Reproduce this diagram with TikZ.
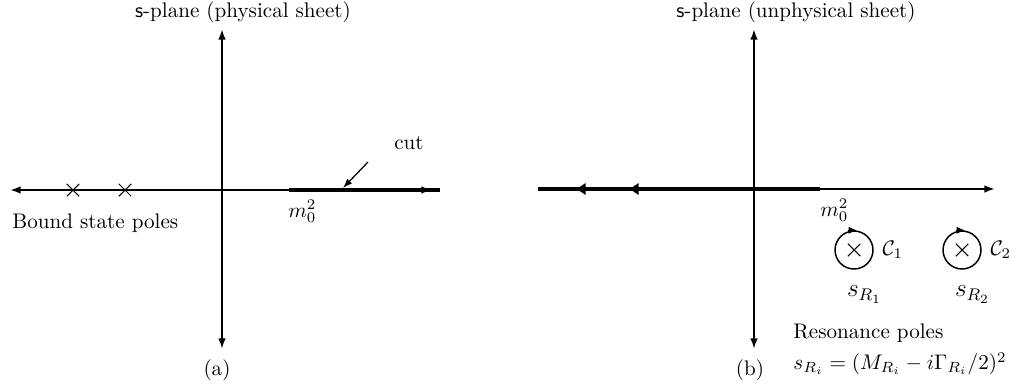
\documentclass[tikz,border=0pt]{standalone}
\usepackage{amsmath}
\usepackage{amssymb}
\usetikzlibrary{shapes.misc, positioning, arrows.meta, decorations.markings}

\begin{document}
\begin{tikzpicture}[x=0.474pt, y=-0.474pt, >={Latex[length=5pt, width=3.6pt]},
    axis/.style = {line width=1.1pt},
    cutline/.style = {line width=2.2pt},
    pole/.style = {draw, cross out, minimum size=5.4pt, inner sep=0pt, line width=0.5pt},
    loop/.style = {draw, circle, minimum size=18pt, inner sep=0pt, line width=0.7pt},
    txt/.style = {inner sep=0pt}]
    \useasboundingbox (0,0) rectangle (1025,390);

    % (a) physical sheet
    \coordinate (oa) at (222,190);
    \coordinate (wa) at (10,190);
    \coordinate (ea) at (432,190);
    \coordinate (na) at (222,29);
    \coordinate (sa) at (222,349);
    \coordinate (ma) at (289,190);
    \coordinate (ka) at (440,190);
    \coordinate (cutpt) at (343,188);
    \coordinate (cuttail) at (368,162);

    \draw[cutline] (ma) -- (ka);
    \draw[axis, <->] (wa) -- (ea);
    \draw[axis, <->] (sa) -- (na);
    \node[pole] (b1) at (73,190) {};
    \node[pole] (b2) at (125,190) {};
    \draw[->, line width=0.6pt, >={Latex[length=4.5pt, width=3.2pt]}] (cuttail) -- (cutpt);

    \node[txt] (cutlbl) at (409,143) {cut};
    \node[txt, below right=4.7pt and -0.5pt of ma] (m0a) {$m_0^2$};
    \node[txt, anchor=west] (bound) at (12,223) {Bound state poles};
    \node[txt] (titlea) at (243,12) {\textsf{s}-plane (physical sheet)};
    \node[txt] (capa) at (217,370) {(a)};

    % (b) unphysical sheet
    \coordinate (ob) at (754,189);
    \coordinate (wb) at (538,189);
    \coordinate (mb) at (820,189);
    \coordinate (eb) at (995,189);
    \coordinate (nb) at (754,29);
    \coordinate (sb) at (754,349);

    \draw[cutline, postaction={decorate}, decoration={markings,
        mark=at position 0.681 with {\arrow{Latex[length=5pt, width=6pt]}},
        mark=at position 0.869 with {\arrow{Latex[length=5pt, width=6pt]}}}] (mb) -- (wb);
    \draw[axis, ->] (mb) -- (eb);
    \draw[axis, <->] (sb) -- (nb);

    \node[txt, below right=4.7pt and 0pt of mb] (m0b) {$m_0^2$};
    \node[loop] (c1) at (854,250) {};
    \node[loop] (c2) at (962,250) {};
    \node[pole] (r1) at (c1) {};
    \node[pole] (r2) at (c2) {};
    \draw[-{Latex[length=4pt, width=3.4pt]}, line width=0.7pt] ([xshift=-3pt]c1.north) -- ([xshift=1.5pt]c1.north);
    \draw[-{Latex[length=4pt, width=3.4pt]}, line width=0.7pt] ([xshift=-3pt]c2.north) -- ([xshift=1.5pt]c2.north);
    \node[txt, right=4pt of c1] (lc1) {$\mathcal{C}_1$};
    \node[txt, right=4pt of c2] (lc2) {$\mathcal{C}_2$};
    \node[txt, below=7.5pt of c1, xshift=5pt] (sr1) {\large $s_{R_1}$};
    \node[txt, below=7.5pt of c2, xshift=5pt] (sr2) {\large $s_{R_2}$};
    \node[txt, align=left, anchor=north west] (res) at (793,323)
        {Resonance poles\\[3pt] $s_{R_i} = (M_{R_i} - i\Gamma_{R_i}/2)^2$};
    \node[txt] (titleb) at (796,12) {\textsf{s}-plane (unphysical sheet)};
    \node[txt] (capb) at (750,370) {(b)};
\end{tikzpicture}
\end{document}
